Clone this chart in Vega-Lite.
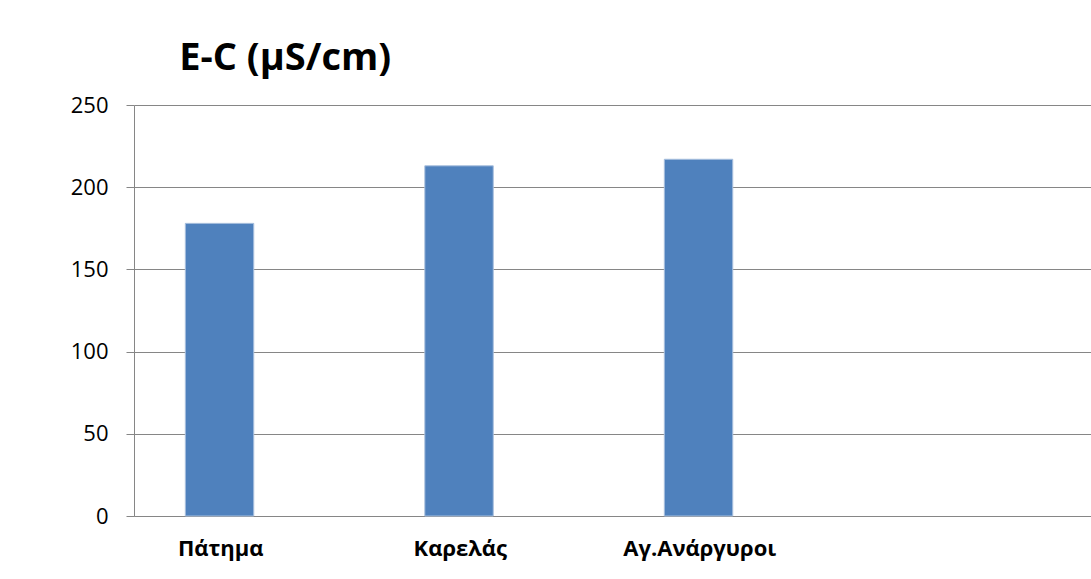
{
  "$schema": "https://vega.github.io/schema/vega-lite/v6.json",
  "autosize": {"type": "none"},
  "padding": {"left": 134, "top": 105, "right": 0, "bottom": 63},
  "width": 958,
  "height": 411,
  "background": "white",
  "title": {
    "text": "E-C (μS/cm)",
    "anchor": "start",
    "orient": "top",
    "font": "Open Sans",
    "fontWeight": "bold",
    "fontSize": 38,
    "color": "#000000",
    "dx": 109,
    "offset": 16
  },
  "data": {
    "values": [
      {"site": "Πάτημα", "series": "E-C", "ec": 178},
      {"site": "Καρελάς", "series": "E-C", "ec": 213},
      {"site": "Αγ.Ανάργυροι", "series": "E-C", "ec": 217}
    ]
  },
  "mark": {"type": "bar", "color": "#4F81BD", "stroke": "#A9C0DE", "strokeWidth": 1},
  "encoding": {
    "x": {
      "field": "site",
      "type": "nominal",
      "sort": null,
      "scale": {
        "domain": ["Πάτημα", "Καρελάς", "Αγ.Ανάργυροι", " "],
        "paddingInner": 0,
        "paddingOuter": 0
      },
      "axis": {
        "title": null,
        "labelAngle": 0,
        "labelFont": "Open Sans",
        "labelFontWeight": "bold",
        "labelFontSize": 22,
        "labelColor": "#000000",
        "labelOffset": -33,
        "labelPadding": 22,
        "ticks": false,
        "domainColor": "#868686",
        "domainWidth": 1,
        "grid": false
      }
    },
    "xOffset": {
      "field": "series",
      "type": "nominal",
      "scale": {"domain": ["E-C", ""], "paddingInner": 0, "paddingOuter": 0.75}
    },
    "y": {
      "field": "ec",
      "type": "quantitative",
      "scale": {"domain": [0, 250], "nice": false},
      "axis": {
        "title": null,
        "values": [0, 50, 100, 150, 200, 250],
        "labelFont": "Open Sans",
        "labelFontSize": 22,
        "labelColor": "#000000",
        "labelPadding": 18,
        "tickSize": 8,
        "tickColor": "#868686",
        "domainColor": "#868686",
        "gridColor": "#868686",
        "gridWidth": 1
      }
    }
  },
  "config": {"view": {"stroke": null}}
}
